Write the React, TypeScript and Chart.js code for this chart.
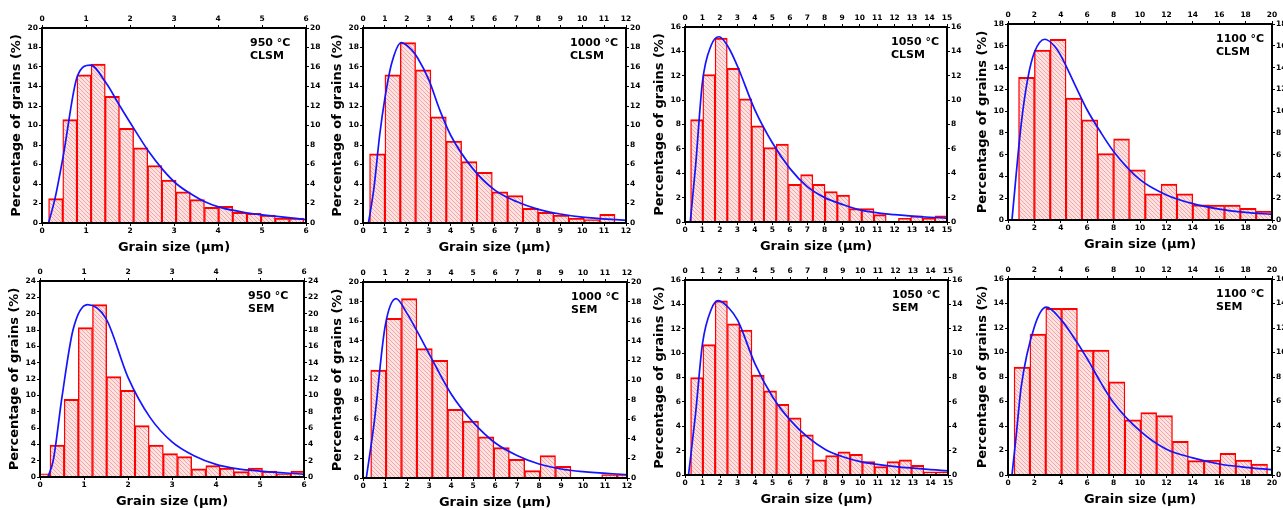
import React, { useEffect, useRef } from "react";
import { Chart, registerables } from "chart.js";

Chart.register(...registerables);

// ---------- labels ----------
const temperatures = ["950", "1000", "1050", "1100"];
const methods = ["CLSM", "SEM"];
const xMaxes = [6, 12, 15, 20];
const xSteps = [1, 1, 1, 2];
const yMaxesClsm = [20, 20, 16, 18];
const yMaxesSem = [24, 20, 16, 16];
const xTitle = "Grain size (μm)";
const yTitle = "Percentage of grains (%)";

// ---------- histogram bins (bin centres, µm) and percentages ----------
const clsm950BinX = [0.311, 0.633, 0.955, 1.277, 1.599, 1.921, 2.243, 2.565, 2.887, 3.209, 3.531, 3.853, 4.175, 4.497, 4.819, 5.141, 5.463, 5.785];
const clsm950Pct = [2.5, 10.6, 15.2, 16.3, 13.0, 9.7, 7.7, 5.9, 4.4, 3.2, 2.4, 1.6, 1.7, 1.1, 1.0, 0.8, 0.5, 0.5];

const clsm1000BinX = [0.65, 1.35, 2.05, 2.75, 3.45, 4.15, 4.85, 5.55, 6.25, 6.95, 7.65, 8.35, 9.05, 9.75, 10.45, 11.15];
const clsm1000Pct = [7.1, 15.2, 18.5, 15.7, 10.9, 8.4, 6.3, 5.2, 3.2, 2.8, 1.5, 1.1, 0.8, 0.5, 0.35, 0.9];

const clsm1050BinX = [0.67, 1.37, 2.07, 2.77, 3.47, 4.17, 4.87, 5.57, 6.27, 6.97, 7.67, 8.37, 9.07, 9.77, 10.47, 11.17, 11.87, 12.57, 13.27, 13.97, 14.67];
const clsm1050Pct = [8.4, 12.1, 15.1, 12.6, 10.1, 7.9, 6.1, 6.4, 3.1, 3.9, 3.1, 2.5, 2.2, 1.1, 1.1, 0.6, null, 0.3, 0.5, 0.3, 0.5];

const clsm1100BinX = [1.4, 2.6, 3.8, 5.0, 6.2, 7.4, 8.6, 9.8, 11.0, 12.2, 13.4, 14.6, 15.8, 17.0, 18.2, 19.4];
const clsm1100Pct = [13.1, 15.6, 16.6, 11.2, 9.2, 6.1, 7.45, 4.6, 2.4, 3.3, 2.4, 1.4, 1.38, 1.38, 1.07, 0.83];

const sem950BinX = [0.066, 0.388, 0.71, 1.032, 1.354, 1.676, 1.998, 2.32, 2.642, 2.964, 3.286, 3.608, 3.93, 4.252, 4.574, 4.896, 5.218, 5.54, 5.862];
const sem950Pct = [0.4, 3.9, 9.5, 18.3, 21.1, 12.3, 10.6, 6.3, 3.9, 2.86, 2.5, 1.0, 1.4, 1.1, 0.65, 1.1, 0.73, 0.4, 0.73];

const sem1000BinX = [0.7, 1.4, 2.1, 2.8, 3.5, 4.2, 4.9, 5.6, 6.3, 7.0, 7.7, 8.4, 9.1, 9.8, 10.5, 11.2, 11.9];
const sem1000Pct = [11.0, 16.3, 18.3, 13.2, 12.0, 7.0, 5.8, 4.2, 3.1, 1.9, 0.75, 2.3, 1.2, null, null, 0.35, 0.35];

const sem1050BinX = [0.67, 1.37, 2.07, 2.77, 3.47, 4.17, 4.87, 5.57, 6.27, 6.97, 7.67, 8.37, 9.07, 9.77, 10.47, 11.17, 11.87, 12.57, 13.27, 13.97, 14.67];
const sem1050Pct = [8.0, 10.7, 14.3, 12.4, 11.9, 8.2, 6.9, 5.8, 4.7, 3.3, 1.25, 1.6, 1.9, 1.7, 1.1, 0.7, 1.1, 1.25, 0.8, 0.25, 0.25];

const sem1100BinX = [1.06, 2.26, 3.46, 4.66, 5.86, 7.06, 8.26, 9.46, 10.66, 11.86, 13.06, 14.26, 15.46, 16.66, 17.86, 19.06];
const sem1100Pct = [8.8, 11.5, 13.6, 13.6, 10.2, 10.2, 7.6, 4.5, 5.1, 4.85, 2.75, 1.17, 1.22, 1.77, 1.22, 0.9];

// ---------- fitted distribution curves ----------
const clsm950FitX = [0.15, 0.3, 0.48, 0.8, 1.1, 1.45, 1.77, 2.1, 2.43, 2.74, 3.06, 3.38, 3.69, 4.01, 4.64, 5.28, 6.0];
const clsm950FitY = [0, 2.6, 6.8, 15.0, 16.2, 14.4, 12.0, 9.6, 7.3, 5.5, 4.0, 3.0, 2.2, 1.65, 1.05, 0.7, 0.35];

const clsm1000FitX = [0.25, 0.5, 0.76, 1.0, 1.3, 1.75, 2.2, 2.5, 3.0, 3.5, 4.0, 5.0, 6.0, 7.0, 8.0, 9.0, 10.0, 12.0];
const clsm1000FitY = [0, 3.6, 9.0, 12.8, 16.3, 18.5, 17.8, 16.9, 14.7, 11.6, 9.0, 5.6, 3.4, 2.2, 1.4, 0.92, 0.6, 0.27];

const clsm1050FitX = [0.3, 0.6, 1.0, 1.5, 1.95, 2.5, 3.0, 4.0, 5.0, 6.0, 7.0, 8.0, 9.0, 10.0, 12.0, 15.0];
const clsm1050FitY = [0, 4.5, 11.5, 14.5, 15.2, 14.3, 12.8, 9.2, 6.5, 4.4, 2.9, 2.0, 1.45, 1.0, 0.6, 0.3];

const clsm1100FitX = [0.3, 1.0, 1.5, 2.0, 2.8, 3.5, 4.0, 5.0, 6.0, 7.0, 8.0, 10.0, 12.0, 14.0, 16.0, 18.0, 20.0];
const clsm1100FitY = [0, 8.8, 13.0, 15.4, 16.6, 16.0, 15.1, 12.6, 10.1, 8.1, 6.3, 3.7, 2.3, 1.5, 1.0, 0.7, 0.52];

const sem950FitX = [0.18, 0.3, 0.5, 0.75, 1.08, 1.5, 2.0, 2.5, 3.0, 3.5, 4.0, 4.5, 5.0, 6.0];
const sem950FitY = [0, 2.0, 9.8, 18.0, 21.1, 19.4, 12.2, 7.3, 4.3, 2.6, 1.55, 1.0, 0.73, 0.33];

const sem1000FitX = [0.15, 0.5, 1.0, 1.5, 2.0, 2.5, 3.0, 4.0, 5.0, 6.0, 7.0, 8.0, 9.0, 10.0, 12.0];
const sem1000FitY = [0, 5.5, 15.4, 18.3, 16.8, 14.8, 12.7, 8.6, 5.7, 3.6, 2.3, 1.43, 0.92, 0.65, 0.34];

const sem1050FitX = [0.2, 0.6, 1.0, 1.5, 1.9, 2.5, 3.0, 4.0, 5.0, 6.0, 7.0, 8.0, 9.0, 10.0, 12.0, 15.0];
const sem1050FitY = [0, 5.0, 10.8, 13.6, 14.3, 13.7, 12.7, 9.1, 6.4, 4.5, 3.1, 2.1, 1.5, 1.1, 0.68, 0.35];

const sem1100FitX = [0.3, 0.6, 1.0, 2.0, 2.9, 4.0, 5.0, 6.0, 7.0, 8.0, 10.0, 12.0, 14.0, 16.0, 18.0, 20.0];
const sem1100FitY = [0, 3.0, 7.2, 12.1, 13.7, 12.7, 11.2, 9.5, 7.6, 5.9, 3.6, 2.1, 1.4, 0.9, 0.63, 0.44];

// ---------- panel assembly ----------
type PanelCfg = {
  binX: number[];
  pct: (number | null)[];
  fitX: number[];
  fitY: number[];
  temp: string;
  method: string;
  xMax: number;
  xStep: number;
  yMax: number;
  plot: { L: number; T: number; R: number; B: number };
};

// plot-area rectangles (page pixels) for the 2 x 4 grid
const plotRects = [
  { L: 42, T: 28, R: 306, B: 223 },
  { L: 363, T: 28, R: 626, B: 223 },
  { L: 685, T: 27, R: 947, B: 222 },
  { L: 1008, T: 24, R: 1272, B: 220 },
  { L: 40, T: 281, R: 304, B: 477 },
  { L: 363, T: 282, R: 627, B: 478 },
  { L: 685, T: 280, R: 948, B: 475 },
  { L: 1008, T: 279, R: 1272, B: 475 },
];

const binXs = [clsm950BinX, clsm1000BinX, clsm1050BinX, clsm1100BinX, sem950BinX, sem1000BinX, sem1050BinX, sem1100BinX];
const pcts = [clsm950Pct, clsm1000Pct, clsm1050Pct, clsm1100Pct, sem950Pct, sem1000Pct, sem1050Pct, sem1100Pct];
const fitXs = [clsm950FitX, clsm1000FitX, clsm1050FitX, clsm1100FitX, sem950FitX, sem1000FitX, sem1050FitX, sem1100FitX];
const fitYs = [clsm950FitY, clsm1000FitY, clsm1050FitY, clsm1100FitY, sem950FitY, sem1000FitY, sem1050FitY, sem1100FitY];

const panels: PanelCfg[] = plotRects.map((plot, i) => {
  const col = i % 4;
  const row = Math.floor(i / 4);
  return {
    binX: binXs[i],
    pct: pcts[i],
    fitX: fitXs[i],
    fitY: fitYs[i],
    temp: temperatures[col],
    method: methods[row],
    xMax: xMaxes[col],
    xStep: xSteps[col],
    yMax: row === 0 ? yMaxesClsm[col] : yMaxesSem[col],
    plot,
  };
});

const LEFT_W = 33;
const RIGHT_W = 18;
const TOP_H = 14;
const BOTTOM_H = 32;
const FONT = '"DejaVu Sans", Verdana, sans-serif';

function makeHatch(ctx: CanvasRenderingContext2D): CanvasPattern | string {
  const c = document.createElement("canvas");
  c.width = 4;
  c.height = 4;
  const p = c.getContext("2d");
  if (!p) return "#fbd0d0";
  p.fillStyle = "#fde2e2";
  p.fillRect(0, 0, 4, 4);
  p.strokeStyle = "rgba(242,150,150,0.8)";
  p.lineWidth = 1;
  p.beginPath();
  p.moveTo(0, 0);
  p.lineTo(4, 4);
  p.moveTo(-1, 3);
  p.lineTo(1, 5);
  p.moveTo(3, -1);
  p.lineTo(5, 1);
  p.stroke();
  return ctx.createPattern(c, "repeat") || "#fbd0d0";
}

function Panel({ cfg }: { cfg: PanelCfg }) {
  const ref = useRef<HTMLCanvasElement | null>(null);
  const { L, T, R, B } = cfg.plot;
  const width = R - L + LEFT_W + RIGHT_W;
  const height = B - T + TOP_H + BOTTOM_H;

  useEffect(() => {
    const canvas = ref.current;
    if (!canvas) return;
    const ctx = canvas.getContext("2d");
    if (!ctx) return;
    const hatch = makeHatch(ctx);

    const tickFont = { family: FONT, size: 7.5, weight: "bold" as const };
    const titleFont = { family: FONT, size: 13, weight: "bold" as const };
    const grid = { drawOnChartArea: false, drawTicks: true, tickLength: 3, color: "#000", lineWidth: 1, offset: false };
    const border = { display: true, color: "#000", width: 2, z: 1 };

    const labelPlugin = {
      id: "panelLabel",
      afterDatasetsDraw(chart: any) {
        const { ctx: c, chartArea } = chart;
        c.save();
        c.font = `bold 11px ${FONT}`;
        c.fillStyle = "#000";
        c.textAlign = "left";
        c.textBaseline = "middle";
        c.fillText(`${cfg.temp} °C`, chartArea.right - 56, chartArea.top + 15);
        c.fillText(cfg.method, chartArea.right - 56, chartArea.top + 28);
        c.restore();
      },
    };

    const chart = new Chart(ctx, {
      type: "bar",
      data: {
        datasets: [
          {
            type: "line",
            data: cfg.fitX.map((x, i) => ({ x, y: cfg.fitY[i] })),
            borderColor: "#1414ff",
            borderWidth: 1.7,
            pointRadius: 0,
            cubicInterpolationMode: "monotone",
            fill: false,
            order: 0,
            clip: 0,
            xAxisID: "x",
            yAxisID: "y",
          } as any,
          {
            type: "bar",
            data: cfg.binX.map((x, i) => ({ x, y: cfg.pct[i] })),
            backgroundColor: hatch as any,
            borderColor: "#ff0000",
            borderWidth: { top: 2, left: 1.4, right: 1.4, bottom: 0 },
            borderSkipped: false,
            barPercentage: 1,
            categoryPercentage: 1,
            order: 1,
            clip: 0,
            xAxisID: "x",
            yAxisID: "y",
          } as any,
        ],
      },
      options: {
        animation: false,
        responsive: false,
        events: [],
        layout: { padding: 0 },
        plugins: { legend: { display: false }, tooltip: { enabled: false } },
        scales: {
          x: {
            type: "linear",
            axis: "x",
            position: "bottom",
            min: 0,
            max: cfg.xMax,
            offset: false,
            ticks: { stepSize: cfg.xStep, autoSkip: false, maxRotation: 0, font: tickFont, color: "#000", padding: 1 },
            grid,
            border,
            title: { display: true, text: xTitle, font: titleFont, color: "#000", padding: 0 },
            afterFit: (s: any) => {
              s.height = BOTTOM_H;
            },
          },
          x2: {
            type: "linear",
            axis: "x",
            position: "top",
            min: 0,
            max: cfg.xMax,
            offset: false,
            ticks: { stepSize: cfg.xStep, autoSkip: false, maxRotation: 0, font: tickFont, color: "#000", padding: 1 },
            grid,
            border,
            afterFit: (s: any) => {
              s.height = TOP_H;
            },
          },
          y: {
            type: "linear",
            axis: "y",
            position: "left",
            min: 0,
            max: cfg.yMax,
            ticks: { stepSize: 2, autoSkip: false, font: tickFont, color: "#000", padding: 1 },
            grid,
            border,
            title: { display: true, text: yTitle, font: titleFont, color: "#000", padding: 0 },
            afterFit: (s: any) => {
              s.width = LEFT_W;
            },
          },
          y2: {
            type: "linear",
            axis: "y",
            position: "right",
            min: 0,
            max: cfg.yMax,
            ticks: { stepSize: 2, autoSkip: false, font: tickFont, color: "#000", padding: 1 },
            grid,
            border,
            afterFit: (s: any) => {
              s.width = RIGHT_W;
            },
          },
        } as any,
      },
      plugins: [labelPlugin],
    });
    return () => chart.destroy();
  }, [cfg]);

  return (
    <canvas
      ref={ref}
      width={width}
      height={height}
      style={{ position: "absolute", left: L - LEFT_W, top: T - TOP_H, width, height }}
    />
  );
}

export default function App() {
  return (
    <div
      style={{
        position: "absolute",
        left: 0,
        top: 0,
        width: 1283,
        height: 508,
        overflow: "hidden",
        background: "#fff",
      }}
    >
      {panels.map((p, i) => (
        <Panel key={i} cfg={p} />
      ))}
    </div>
  );
}
